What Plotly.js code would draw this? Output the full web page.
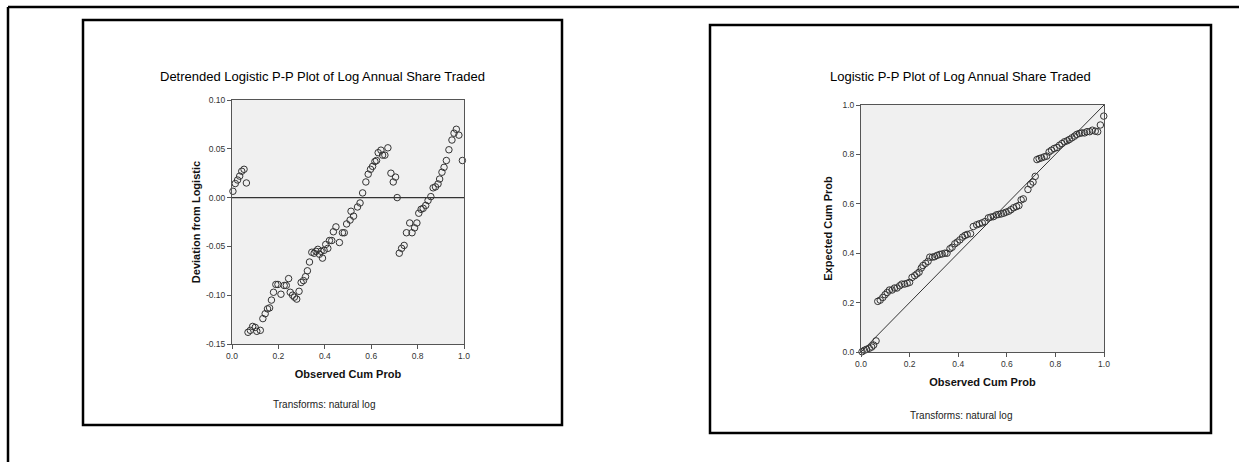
<!DOCTYPE html>
<html>
<head>
<meta charset="utf-8">
<script src="https://cdn.plot.ly/plotly-3.0.1.min.js"></script>
<style>
  html, body { margin: 0; padding: 0; background: #ffffff; }
  #chart { width: 1239px; height: 462px; }
</style>
</head>
<body>
<div id="chart"></div>
<script>
// ---- Detrended Logistic P-P plot: observed cum prob vs deviation ----
const detrObserved = [
  0.004,0.014,0.024,0.033,0.042,0.052,0.062,
  0.069,0.079,0.089,0.100,0.107,0.122,0.133,0.143,0.153,0.162,0.170,0.179,0.189,0.198,0.211,
  0.225,0.234,0.244,0.251,0.261,0.269,0.279,0.289,0.298,0.308,0.317,0.325,0.334,0.344,0.354,
  0.362,0.370,0.377,0.384,0.390,0.397,0.404,0.413,0.420,0.430,0.437,0.448,0.463,0.476,0.484,0.494,
  0.509,0.513,0.524,0.541,0.552,0.563,0.577,0.587,0.597,0.606,0.616,0.623,0.630,0.642,0.649,
  0.659,0.672,0.685,0.695,0.705,0.712,
  0.721,0.731,0.742,0.752,0.766,0.776,0.787,0.797,0.805,0.815,0.824,0.835,0.845,0.857,0.867,
  0.877,0.888,0.895,0.905,0.914,0.924,0.935,0.948,0.957,0.967,0.978,0.993
];
const detrDeviation = [
  0.0065,0.0144,0.018,0.022,0.027,0.029,0.015,
  -0.138,-0.136,-0.132,-0.133,-0.137,-0.136,-0.124,-0.119,-0.114,-0.113,-0.105,-0.097,-0.089,-0.089,-0.099,
  -0.090,-0.090,-0.083,-0.097,-0.100,-0.102,-0.104,-0.096,-0.087,-0.085,-0.081,-0.075,-0.066,-0.056,-0.057,
  -0.055,-0.053,-0.058,-0.055,-0.062,-0.054,-0.048,-0.052,-0.044,-0.044,-0.035,-0.030,-0.046,-0.036,-0.036,-0.027,
  -0.023,-0.014,-0.019,-0.0096,-0.0055,0.0048,0.016,0.024,0.029,0.032,0.037,0.038,0.046,0.0486,0.0435,
  0.0435,0.051,0.025,0.016,0.021,0.000,
  -0.057,-0.052,-0.049,-0.036,-0.026,-0.036,-0.031,-0.026,-0.016,-0.012,-0.011,-0.008,-0.003,0.001,0.010,
  0.011,0.014,0.019,0.026,0.031,0.038,0.049,0.059,0.066,0.070,0.064,0.038
];

// ---- Logistic P-P plot: observed cum prob vs expected cum prob ----
const ppObserved = [
  0.004,0.014,0.023,0.034,0.044,0.052,0.062,
  0.069,0.079,0.090,0.099,0.108,0.117,0.128,0.138,0.148,0.159,0.168,0.179,0.190,0.200,0.210,
  0.221,0.230,0.239,0.248,0.255,0.266,0.276,0.283,0.294,0.303,0.313,0.324,0.334,0.345,0.354,
  0.366,0.375,0.386,0.396,0.407,0.418,0.428,0.437,0.451,
  0.462,0.476,0.487,0.499,0.510,0.524,0.534,0.545,0.557,0.566,0.577,0.587,0.597,0.608,0.617,
  0.628,0.640,0.650,0.659,0.668,0.687,0.698,0.708,0.717,
  0.724,0.733,0.743,0.754,0.764,0.774,0.784,0.795,0.806,0.817,0.827,0.837,0.848,0.857,0.868,
  0.879,0.888,0.899,0.909,0.920,0.930,0.941,0.952,0.964,0.974,0.985,0.999
];
const ppExpected = [
  0.001,0.007,0.011,0.015,0.020,0.028,0.045,
  0.205,0.210,0.221,0.232,0.241,0.251,0.251,0.259,0.259,0.268,0.275,0.275,0.278,0.282,0.302,
  0.309,0.316,0.323,0.340,0.350,0.359,0.367,0.384,0.384,0.386,0.391,0.395,0.397,0.400,0.400,
  0.418,0.424,0.438,0.445,0.454,0.465,0.472,0.476,0.479,
  0.508,0.515,0.519,0.523,0.528,0.543,0.546,0.548,0.555,0.557,0.559,0.562,0.566,0.570,0.576,
  0.584,0.589,0.593,0.616,0.620,0.658,0.679,0.688,0.711,
  0.779,0.783,0.786,0.790,0.793,0.810,0.817,0.824,0.828,0.837,0.844,0.851,0.855,0.860,0.867,
  0.874,0.881,0.885,0.887,0.887,0.892,0.892,0.898,0.894,0.892,0.919,0.955
];

// reference lines (in data units)
const zeroLineX = [0, 1];
const zeroLineY = [0, 0];
const diagLineX = [0, 1];
const diagLineY = [0, 1];

// ticks
const probTicks = [0, 0.2, 0.4, 0.6, 0.8, 1.0];
const probTickLabels = ["0.0", "0.2", "0.4", "0.6", "0.8", "1.0"];
const devTicks = [-0.15, -0.10, -0.05, 0.00, 0.05, 0.10];
const devTickLabels = ["-0.15", "-0.10", "-0.05", "0.00", "0.05", "0.10"];

// text
const leftTitle = "Detrended Logistic P-P Plot of Log Annual Share Traded";
const rightTitle = "Logistic P-P Plot of Log Annual Share Traded";
const xTitle = "Observed Cum Prob";
const leftYTitle = "Deviation from Logistic";
const rightYTitle = "Expected Cum Prob";
const footnote = "Transforms: natural log";

const W = 1239, H = 462;
const px = v => v / W;
const py = v => 1 - v / H;

const FONT = "Arial, 'Liberation Sans', sans-serif";
const markerStyle = { symbol: "circle-open", size: 6.5, color: "#333333", line: { width: 1, color: "#333333" } };

const traces = [
  { type: "scatter", mode: "lines", x: zeroLineX, y: zeroLineY, xaxis: "x", yaxis: "y",
    line: { color: "#333333", width: 1.3 }, hoverinfo: "skip" },
  { type: "scatter", mode: "markers", x: detrObserved, y: detrDeviation, xaxis: "x", yaxis: "y",
    marker: markerStyle, cliponaxis: false },
  { type: "scatter", mode: "lines", x: diagLineX, y: diagLineY, xaxis: "x2", yaxis: "y2",
    line: { color: "#333333", width: 1 }, hoverinfo: "skip" },
  { type: "scatter", mode: "markers", x: ppObserved, y: ppExpected, xaxis: "x2", yaxis: "y2",
    marker: markerStyle, cliponaxis: false }
];

const tickFont = { family: FONT, size: 8.5, color: "#333333" };
const axTitleFont = { family: FONT, size: 11, color: "#111111", weight: "bold" };

function axisBase() {
  return {
    showgrid: false, zeroline: false, showline: true, mirror: true,
    linecolor: "#555555", linewidth: 1,
    ticks: "outside", ticklen: 4, tickwidth: 1, tickcolor: "#555555",
    tickfont: tickFont, fixedrange: true
  };
}

const layout = {
  width: W, height: H,
  margin: { l: 0, r: 0, t: 0, b: 0 },
  paper_bgcolor: "#ffffff",
  plot_bgcolor: "#f0f0f0",
  showlegend: false,
  font: { family: FONT, color: "#111111" },
  xaxis: Object.assign(axisBase(), {
    domain: [px(232), px(464)], range: [0, 1], anchor: "y",
    tickmode: "array", tickvals: probTicks, ticktext: probTickLabels,
    title: { text: xTitle, font: axTitleFont, standoff: 10 }
  }),
  yaxis: Object.assign(axisBase(), {
    domain: [py(344), py(100)], range: [-0.15, 0.10], anchor: "x",
    tickmode: "array", tickvals: devTicks, ticktext: devTickLabels,
    title: { text: leftYTitle, font: axTitleFont, standoff: 3 }
  }),
  xaxis2: Object.assign(axisBase(), {
    domain: [px(861), px(1104)], range: [0, 1], anchor: "y2",
    tickmode: "array", tickvals: probTicks, ticktext: probTickLabels,
    title: { text: xTitle, font: axTitleFont, standoff: 10 }
  }),
  yaxis2: Object.assign(axisBase(), {
    domain: [py(352), py(105)], range: [0, 1], anchor: "x2",
    tickmode: "array", tickvals: probTicks, ticktext: probTickLabels,
    title: { text: rightYTitle, font: axTitleFont, standoff: 7 }
  }),
  shapes: [
    // outer page frame (top and left)
    { type: "line", xref: "paper", yref: "paper", x0: px(8), x1: 1, y0: py(7), y1: py(7), line: { color: "#000", width: 2.5 } },
    { type: "line", xref: "paper", yref: "paper", x0: px(8), x1: px(8), y0: py(7), y1: 0, line: { color: "#000", width: 2.5 } },
    // chart boxes
    { type: "rect", xref: "paper", yref: "paper", x0: px(83), x1: px(562), y0: py(425), y1: py(20), line: { color: "#000", width: 2.5 } },
    { type: "rect", xref: "paper", yref: "paper", x0: px(710), x1: px(1211), y0: py(433), y1: py(25), line: { color: "#000", width: 2.5 } }
  ],
  annotations: [
    { xref: "paper", yref: "paper", x: px(322), y: py(77), text: leftTitle, showarrow: false,
      xanchor: "center", yanchor: "middle", font: { family: FONT, size: 13, color: "#000000" } },
    { xref: "paper", yref: "paper", x: px(960), y: py(77), text: rightTitle, showarrow: false,
      xanchor: "center", yanchor: "middle", font: { family: FONT, size: 13, color: "#000000" } },
    { xref: "paper", yref: "paper", x: px(324), y: py(404), text: footnote, showarrow: false,
      xanchor: "center", yanchor: "middle", font: { family: FONT, size: 10, color: "#222222" } },
    { xref: "paper", yref: "paper", x: px(961), y: py(415), text: footnote, showarrow: false,
      xanchor: "center", yanchor: "middle", font: { family: FONT, size: 10, color: "#222222" } }
  ]
};

Plotly.newPlot("chart", traces, layout, { staticPlot: true, displayModeBar: false });
</script>
</body>
</html>
